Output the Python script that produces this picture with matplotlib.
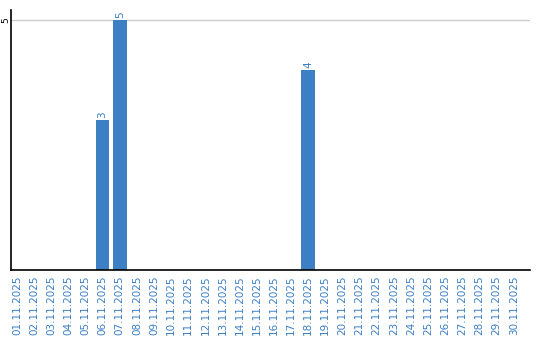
import matplotlib
matplotlib.use("Agg")
import matplotlib.pyplot as plt
import matplotlib.transforms as mtransforms

dates = [f"{d:02d}.11.2025" for d in range(1, 31)]
values = [0, 0, 0, 0, 0, 3, 5, 0, 0, 0, 0, 0, 0, 0, 0, 0, 0, 4, 0, 0, 0, 0, 0, 0, 0, 0, 0, 0, 0, 0]
ytick_vals = [5]

blue = "#3d7fc4"
fig = plt.figure(figsize=(5.4, 3.4), dpi=100)
ax = fig.add_axes([11/540, 1-270/340, (530-11)/540, (270-10)/340])
x = list(range(len(dates)))
ax.bar(x, values, width=0.8, color=blue, zorder=2)
for xi, v in zip(x, values):
    if v > 0:
        ax.text(xi, v + 0.05, str(v), rotation=90, ha="center", va="bottom",
                color=blue, fontsize=7.5)
ax.set_xlim(-0.35, 29.95)
ax.set_ylim(0, 5.2)
ax.set_yticks(ytick_vals)
ax.set_yticklabels([])
trans = mtransforms.blended_transform_factory(fig.transFigure, ax.transData)
for yv in ytick_vals:
    ax.text(5.5/540, yv, str(yv), rotation=90, ha="center", va="center",
            fontsize=6.5, color="black", transform=trans, clip_on=False)
ax.yaxis.grid(True, color="#cccccc", linewidth=1, zorder=0)
ax.set_xticks(x)
ax.set_xticklabels(dates, rotation=90, color=blue, fontsize=7.5)
ax.tick_params(axis="x", length=0, pad=4)
ax.tick_params(axis="y", length=0)
for s in ["top", "right"]:
    ax.spines[s].set_visible(False)
ax.spines["left"].set_linewidth(1.2)
ax.spines["bottom"].set_linewidth(1.2)
fig.savefig("out.png", dpi=100)
